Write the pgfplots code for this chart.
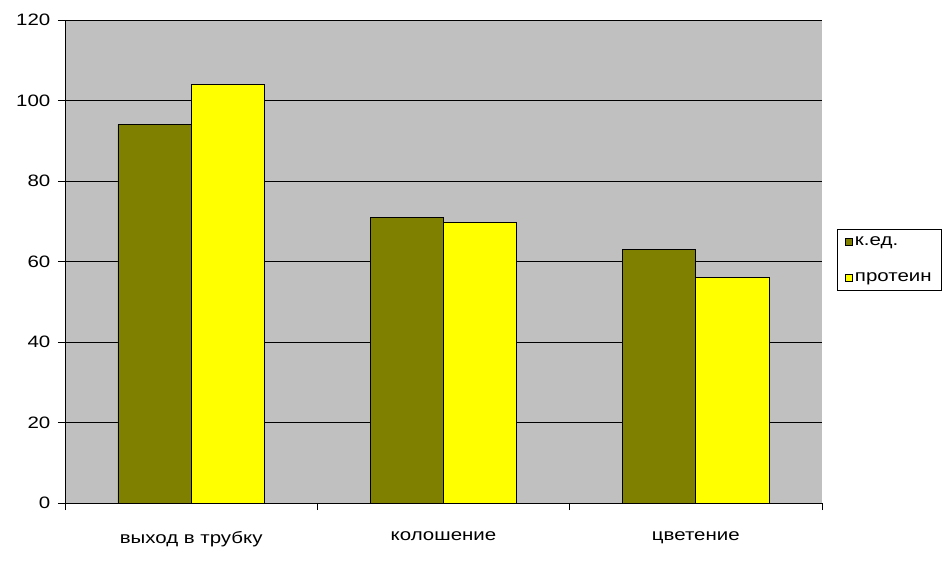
\documentclass[border=0pt]{standalone}
\usepackage{fontspec}
\setmainfont{Liberation Sans}[FakeStretch=1.24]
\usepackage{pgfplots}
\pgfplotsset{compat=1.18}
\definecolor{bggray}{HTML}{C0C0C0}
\definecolor{olivec}{HTML}{808000}
\definecolor{yellowc}{HTML}{FFFF00}
\begin{document}
\fontsize{16.5bp}{19bp}\selectfont
\begin{tikzpicture}[font=\fontsize{16.5bp}{19bp}\selectfont]
\useasboundingbox (0,0) rectangle (947bp,570bp);
\begin{axis}[
  at={(65bp,67bp)}, anchor=south west,
  scale only axis, width=757bp, height=483bp,
  /pgf/number format/assume math mode=true,
  ybar=0pt, bar width=0.29,
  xmin=-0.5, xmax=2.5, ymin=0, ymax=120,
  ytick={0,20,...,120},
  xtick={0,1,2},
  xticklabels={выход в трубку, колошение, цветение},
  major x tick style={draw=none},
  minor xtick={-0.5,0.5,1.5,2.5},
  minor tick length=7bp,
  major tick length=7bp,
  tick align=outside,
  axis x line*=bottom, axis y line*=left,
  axis line style={black, line width=1pt, -},
  tick style={black, line width=0.8pt},
  ymajorgrids, grid style={black, line width=0.9pt},
  axis background/.style={fill=bggray},
  xticklabel style={yshift=-16bp},
  yticklabel style={xshift=-2bp},
  legend cell align=left,
  legend style={at={(1.0198,0.503)}, anchor=west, draw=black, fill=white,
    line width=0.8pt, font=\fontsize{16.5bp}{19bp}\selectfont,
    row sep=21bp, inner xsep=8bp, inner ysep=5bp},
  legend image code/.code={\draw[#1, line width=0.6pt, draw=black] (0bp,-3.5bp) rectangle (7bp,3.5bp);},
]
\addplot[fill=olivec, draw=black, line width=0.8pt] coordinates {(0,94) (1,71) (2,63)};
\addplot[fill=yellowc, draw=black, line width=0.8pt] coordinates {(0,104) (1,69.7) (2,56)};
\legend{к.ед., протеин}
\end{axis}
\end{tikzpicture}
\end{document}
